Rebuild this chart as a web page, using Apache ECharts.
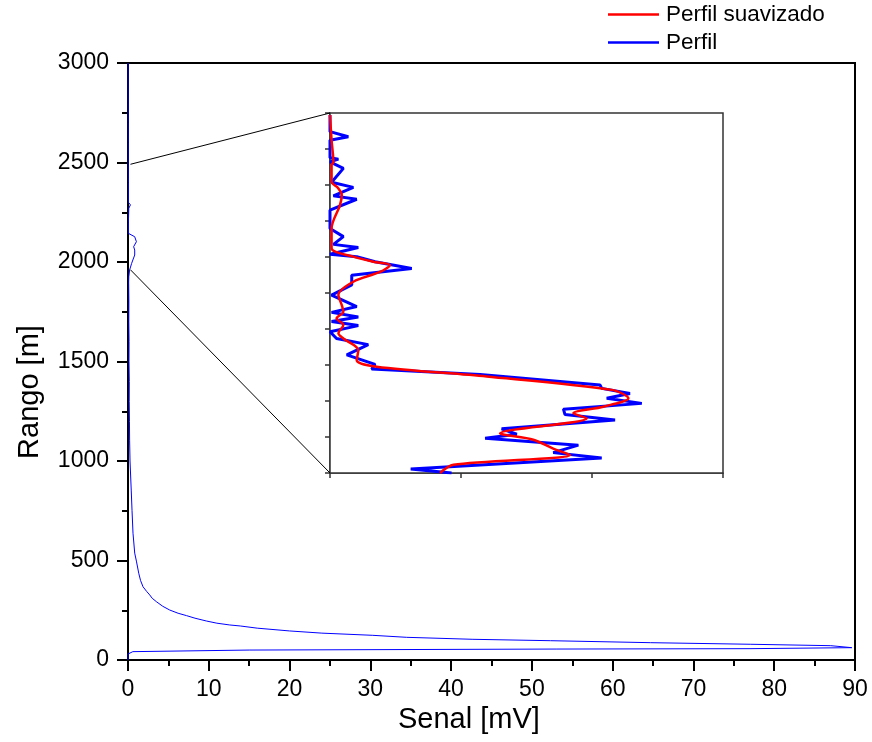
<!DOCTYPE html>
<html>
<head>
<meta charset="utf-8">
<script src="https://cdn.jsdelivr.net/npm/echarts@6/dist/echarts.min.js"></script>
<style>
html,body{margin:0;padding:0;background:#fff;}
#chart{width:872px;height:742px;}
</style>
</head>
<body>
<div id="chart"></div>
<script>
// ---- Main profile (Perfil): signal [mV] vs range [m]
const mainSignal = [0, 0, 0.1, 0.6, 15, 53, 77, 89.6, 87, 77.1, 64.7, 52.3, 42.7, 34.5, 30.3, 24, 20, 16, 13.9, 12.6, 11, 9.7, 8.3, 7.24, 6.2, 5.17, 4.3, 3.52, 3.0, 2.69, 2.3, 1.86, 1.55, 1.33, 1.04, 0.83, 0.62, 0.5, 0.4, 0.25, 0.2,
  0.18, 0.15, 0.16, 0.12, 0.13, 0.1, 0.11, 0.08, 0.1,
  0.2, 0.45, 0.6, 0.83, 0.6, 0.83, 0.7, 1.04, 0.83, 0.05,
  0.05, 0.1, 0.3, 0.05, 0.05, 0.02, 0.03, 0.02, 0.02, 0.01, 0.01];
const mainRange = [0, 30, 34, 42, 50, 55, 57, 62, 72, 79, 87, 97, 104, 114, 124, 135, 146, 160, 171, 176, 185, 196, 210, 223, 235, 251, 270, 293, 310, 327, 345, 368, 400, 436, 497, 537, 637, 750, 854, 1000, 1105,
  1200, 1300, 1400, 1500, 1600, 1700, 1800, 1900, 1926,
  1960, 1993, 2010, 2035, 2043, 2060, 2077, 2102, 2127, 2144,
  2200, 2270, 2287, 2300, 2400, 2500, 2600, 2700, 2800, 2900, 3000];

// ---- Inset (zoom of 1961–2491 m)
const insetSignal = [0.464, 0.308, 1.037, 0.852, 0.948, 0.592, 0.713, 0.655, 1.088, 0.897, 0.891, 1.19, 1.056, 1.145, 1.037, 1.031,
  0.573, 0.159, 0.172, 0.064, 0.146, 0.025, 0, 0.108, 0.006, 0.108, 0.006, 0.102, 0.006, 0.083, 0.083, 0.312, 0.172, 0.102,
  0, 0.108, 0.013, 0.051, 0, 0, 0.102, 0.013, 0.089, 0.006, 0.051, 0, 0.032, 0, 0, 0.070, 0, 0];
const insetRange = [1961, 1967, 1983, 1991, 2002, 2012, 2018, 2026, 2039, 2047, 2055, 2063.5, 2071, 2078, 2085.6, 2090.5,
  2106, 2114, 2121, 2135, 2150, 2159, 2169, 2178, 2184, 2190.6, 2197.5, 2206, 2223, 2238, 2252, 2262, 2272, 2279.5,
  2283, 2293, 2297.6, 2309, 2321, 2348, 2364, 2369, 2381.5, 2389, 2409.5, 2419, 2423, 2425, 2451, 2456, 2463.5, 2488];
const smoothSignal = [0.42, 0.471, 0.916, 0.852, 0.776, 0.649, 0.98, 0.929, 1.043, 1.139, 1.081, 0.598, 0.178, 0.102, 0.108,
  0.051, 0.032, 0.051, 0.025, 0.051, 0.045, 0.032, 0.089, 0.191, 0.229, 0.165, 0.089, 0.006, 0.006, 0.038, 0.045, 0.032, 0.006, 0.006, 0.013, 0.006, 0];
const smoothRange = [1961, 1973, 1987.5, 1997, 2010, 2019.4, 2041.5, 2049, 2058.6, 2071, 2083, 2103, 2117.5, 2127, 2142,
  2159, 2166.6, 2179, 2188.7, 2198.5, 2208, 2223, 2242.6, 2257, 2267, 2272, 2279.5, 2292, 2321, 2355.5, 2370, 2380, 2390, 2414, 2419, 2451, 2488];

const zoomRange = [1961, 2491];
const insetSignalRange = [0, 1.5];

const xTitle = 'Senal [mV]';
const yTitle = 'Rango [m]';
const nameSmooth = 'Perfil suavizado';
const nameRaw = 'Perfil';

const FONT = 'Liberation Sans, Arial, sans-serif';
const pair = (xs, ys) => xs.map((v, i) => [v, ys[i]]);
const plain = v => String(v);

const chart = echarts.init(document.getElementById('chart'), null, {renderer: 'canvas'});

const titles = [
  {type: 'text', left: 398, top: 705, style: {text: xTitle, font: '29px ' + FONT, fill: '#000'}},
  {type: 'text', x: 30, y: 392, rotation: Math.PI / 2,
   style: {text: yTitle, font: '29px ' + FONT, fill: '#000', align: 'center', verticalAlign: 'middle'}}
];

const option = {
  animation: false,
  backgroundColor: '#fff',
  textStyle: {fontFamily: FONT},
  legend: {
    orient: 'vertical',
    left: 608, top: 3, padding: 0,
    itemWidth: 51, itemHeight: 14, itemGap: 5,
    textStyle: {fontFamily: FONT, fontSize: 22.5, color: '#000', padding: [0, 0, 0, 2]},
    data: [
      {name: nameSmooth, icon: 'path://M0,0L52,0L52,2.5L0,2.5Z', itemStyle: {color: '#ff0000'}},
      {name: nameRaw, icon: 'path://M0,0L52,0L52,2.5L0,2.5Z', itemStyle: {color: '#0000ff'}}
    ]
  },
  grid: [
    {left: 128, right: 17, top: 63, bottom: 82, show: true, borderColor: '#000', borderWidth: 2, backgroundColor: 'transparent'},
    {left: 330, right: 149, top: 113, bottom: 269, show: true, borderColor: '#333', borderWidth: 1.5, backgroundColor: '#fff', z: 5}
  ],
  xAxis: [
    {type: 'value', gridIndex: 0, min: 0, max: 90, interval: 10,
     axisLine: {show: true, onZero: false, lineStyle: {color: '#000', width: 2}},
     axisTick: {show: true, length: 11, lineStyle: {color: '#000', width: 2}},
     minorTick: {show: true, splitNumber: 2, length: 6, lineStyle: {color: '#000', width: 2}},
     splitLine: {show: false},
     axisLabel: {fontFamily: FONT, fontSize: 23, color: '#000', margin: 18, formatter: plain}},
    {type: 'value', gridIndex: 1, min: insetSignalRange[0], max: insetSignalRange[1], interval: 0.5,
     axisLine: {show: true, onZero: false, lineStyle: {color: '#333', width: 1.5}},
     axisTick: {show: true, length: 5, lineStyle: {color: '#333', width: 1.5}},
     splitLine: {show: false},
     axisLabel: {show: false}}
  ],
  yAxis: [
    {type: 'value', gridIndex: 0, min: 0, max: 3000, interval: 500,
     axisLine: {show: true, onZero: false, lineStyle: {color: '#000', width: 2}},
     axisTick: {show: true, length: 11, lineStyle: {color: '#000', width: 2}},
     minorTick: {show: true, splitNumber: 2, length: 6, lineStyle: {color: '#000', width: 2}},
     splitLine: {show: false},
     axisLabel: {fontFamily: FONT, fontSize: 23, color: '#000', margin: 19, formatter: plain}},
    {type: 'value', gridIndex: 1, min: zoomRange[0], max: zoomRange[1], interval: 53,
     axisLine: {show: true, onZero: false, lineStyle: {color: '#333', width: 1.5}},
     axisTick: {show: true, length: 5, lineStyle: {color: '#333', width: 1.5}},
     splitLine: {show: false},
     axisLabel: {show: false}}
  ],
  series: [
    {name: nameRaw, type: 'line', xAxisIndex: 0, yAxisIndex: 0, data: pair(mainSignal, mainRange),
     symbol: 'none', lineStyle: {color: '#0000ff', width: 1}, itemStyle: {color: '#0000ff'}, z: 3},
    {name: nameRaw, type: 'line', xAxisIndex: 1, yAxisIndex: 1, data: pair(insetSignal, insetRange),
     symbol: 'none', lineStyle: {color: '#0000ff', width: 3}, itemStyle: {color: '#0000ff'}, z: 6, clip: true},
    {name: nameSmooth, type: 'line', xAxisIndex: 1, yAxisIndex: 1, data: pair(smoothSignal, smoothRange),
     symbol: 'none', smooth: 0.3, lineStyle: {color: '#ff0000', width: 2.5}, itemStyle: {color: '#ff0000'}, z: 7, clip: true}
  ],
  graphic: titles
};
chart.setOption(option);

// connector lines from the zoomed span on the main axis to the inset corners
const mainTop = chart.convertToPixel({xAxisIndex: 0, yAxisIndex: 0}, [0.3, zoomRange[1]]);
const mainBot = chart.convertToPixel({xAxisIndex: 0, yAxisIndex: 0}, [0.3, zoomRange[0]]);
const insTop = chart.convertToPixel({xAxisIndex: 1, yAxisIndex: 1}, [insetSignalRange[0], zoomRange[1]]);
const insBot = chart.convertToPixel({xAxisIndex: 1, yAxisIndex: 1}, [insetSignalRange[0], zoomRange[0]]);
chart.setOption({
  graphic: titles.concat([
    {type: 'line', z: 10, shape: {x1: mainTop[0], y1: mainTop[1], x2: insTop[0], y2: insTop[1]}, style: {stroke: '#000', lineWidth: 1}},
    {type: 'line', z: 10, shape: {x1: mainBot[0], y1: mainBot[1], x2: insBot[0], y2: insBot[1]}, style: {stroke: '#000', lineWidth: 1}}
  ])
}, {replaceMerge: ['graphic']});
</script>
</body>
</html>
